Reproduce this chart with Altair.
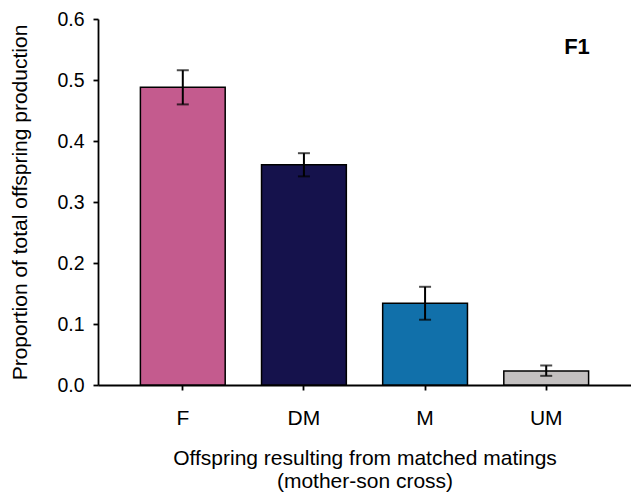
import altair as alt
import pandas as pd

categories = ["F", "DM", "M", "UM"]
means = [0.488, 0.361, 0.134, 0.023]
err_low = [0.460, 0.342, 0.107, 0.015]
err_high = [0.516, 0.380, 0.161, 0.032]
colors = ["#C45B8E", "#15124C", "#1170AA", "#C3C0C0"]
panel_label = ["F1"]

df = pd.DataFrame({"cat": categories, "mean": means, "lo": err_low, "hi": err_high})
FONT = "Liberation Sans"

x_enc = alt.X(
    "cat:N",
    sort=categories,
    scale=alt.Scale(paddingInner=0.3, paddingOuter=0.35),
    axis=alt.Axis(
        title=["Offspring resulting from matched matings", "(mother-son cross)"],
        labelAngle=0,
        labelFontSize=21,
        labelPadding=17,
        titleFontSize=21,
        titlePadding=19,
        titleLineHeight=23,
        titleFontWeight="normal",
    ),
)

y_scale = alt.Scale(domain=[0, 0.6], nice=False)

bars = alt.Chart(df).mark_bar(stroke="black", strokeWidth=1.5).encode(
    x=x_enc,
    y=alt.Y(
        "mean:Q",
        scale=y_scale,
        axis=alt.Axis(
            title="Proportion of total offspring production",
            values=[0, 0.1, 0.2, 0.3, 0.4, 0.5, 0.6],
            format=".1f",
            labelFontSize=19.5,
            labelPadding=9,
            titleFontSize=21,
            titlePadding=26,
            titleFontWeight="normal",
            grid=False,
        ),
    ),
    color=alt.Color("cat:N", scale=alt.Scale(domain=categories, range=colors), legend=None),
)

rules = alt.Chart(df).mark_rule(color="black", strokeWidth=2).encode(
    x=alt.X("cat:N", sort=categories),
    y=alt.Y("lo:Q", scale=y_scale),
    y2="hi:Q",
)

caps_hi = alt.Chart(df).mark_tick(color="black", size=12, thickness=2).encode(
    x=alt.X("cat:N", sort=categories),
    y=alt.Y("hi:Q", scale=y_scale),
)
caps_lo = alt.Chart(df).mark_tick(color="black", size=12, thickness=2).encode(
    x=alt.X("cat:N", sort=categories),
    y=alt.Y("lo:Q", scale=y_scale),
)

label = alt.Chart(pd.DataFrame({"t": panel_label})).mark_text(
    font=FONT, fontSize=22, fontWeight="bold", color="black"
).encode(x=alt.value(479), y=alt.value(28), text="t:N")

chart = (
    alt.layer(bars, rules, caps_hi, caps_lo, label)
    .properties(
        width=533,
        height=366,
        autosize=alt.AutoSizeParams(type="none"),
        padding={"left": 90, "top": 11, "right": 0, "bottom": 108},
        background="white",
    )
    .configure_view(strokeWidth=0)
    .configure_axis(
        labelFont=FONT,
        titleFont=FONT,
        labelColor="black",
        titleColor="black",
        domainColor="black",
        domainWidth=1.8,
        tickColor="black",
        tickWidth=1.8,
        tickSize=5,
    )
)

chart.save("out.html", embed_options={"renderer": "svg", "actions": False})
